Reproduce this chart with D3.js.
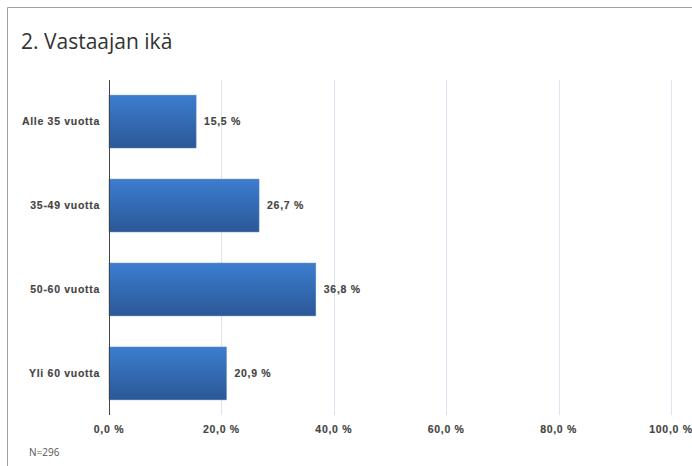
<!DOCTYPE html>
<html>
<head>
<meta charset="utf-8">
<script src="https://cdn.jsdelivr.net/npm/d3@7"></script>
<style>
  body { margin: 0; background: #fff; }
  svg { display: block; }
</style>
</head>
<body>
<div class="chart"></div>
<script>
const categories = ["Alle 35 vuotta", "35-49 vuotta", "50-60 vuotta", "Yli 60 vuotta"];
const values = [15.5, 26.7, 36.8, 20.9];
const ticks = [0, 20, 40, 60, 80, 100];
const title = "2. Vastaajan ikä";
const note = "N=296";

const width = 692, height = 466;
const margin = { top: 80, right: 21, bottom: 51, left: 109 };
const labelFont = "'Liberation Sans', Arial, sans-serif";

const svg = d3.select(".chart")
  .append("svg")
  .attr("width", width)
  .attr("height", height);

// frame (top + left edges)
svg.append("path")
  .attr("d", `M7.5,${height} V7.5 H${width}`)
  .attr("fill", "none")
  .attr("stroke", "#a0a0a0")
  .attr("stroke-width", 1);

svg.append("text")
  .attr("x", 21)
  .attr("y", 49)
  .attr("font-family", "'Open Sans', sans-serif")
  .attr("font-size", 21)
  .attr("fill", "#333")
  .text(title);

const fmt = v => v.toFixed(1).replace(".", ",") + " %";

const x = d3.scaleLinear().domain([0, 100]).range([margin.left, width - margin.right]);
const y = d3.scaleBand().domain(categories).range([margin.top, height - margin.bottom]).paddingInner(0.37).paddingOuter(0.18);

const defs = svg.append("defs");
const grad = defs.append("linearGradient")
  .attr("id", "barGrad")
  .attr("x1", 0).attr("y1", 0).attr("x2", 0).attr("y2", 1);
grad.append("stop").attr("offset", "0%").attr("stop-color", "#3b7dcf");
grad.append("stop").attr("offset", "100%").attr("stop-color", "#2b5896");

// gridlines
svg.append("g")
  .selectAll("line")
  .data(ticks.filter(d => d > 0))
  .join("line")
  .attr("x1", d => Math.round(x(d)) + 0.5)
  .attr("x2", d => Math.round(x(d)) + 0.5)
  .attr("y1", margin.top)
  .attr("y2", height - margin.bottom)
  .attr("stroke", "#dde3ef")
  .attr("stroke-width", 1);

// bars
svg.append("g")
  .selectAll("rect")
  .data(categories)
  .join("rect")
  .attr("x", x(0))
  .attr("y", d => y(d))
  .attr("width", (d, i) => x(values[i]) - x(0))
  .attr("height", y.bandwidth())
  .attr("fill", "url(#barGrad)")
  .attr("stroke", "#5d86bd")
  .attr("stroke-width", 0.5);

function styleLabel(sel) {
  sel.attr("font-family", labelFont)
    .attr("font-size", 10.5)
    .attr("font-weight", 600)
    .attr("letter-spacing", 0.7)
    .attr("fill", "#444")
    .attr("stroke", "#444")
    .attr("stroke-width", 0.15);
}

// value labels
svg.append("g")
  .selectAll("text")
  .data(categories)
  .join("text")
  .attr("x", (d, i) => x(values[i]) + 8)
  .attr("y", d => y(d) + y.bandwidth() / 2)
  .attr("dy", "0.35em")
  .call(styleLabel)
  .text((d, i) => fmt(values[i]));

// y axis line
svg.append("line")
  .attr("x1", x(0) + 0.5).attr("x2", x(0) + 0.5)
  .attr("y1", margin.top).attr("y2", height - margin.bottom)
  .attr("stroke", "#444")
  .attr("stroke-width", 1);

// category labels
svg.append("g")
  .selectAll("text")
  .data(categories)
  .join("text")
  .attr("x", x(0) - 9)
  .attr("y", d => y(d) + y.bandwidth() / 2)
  .attr("dy", "0.35em")
  .attr("text-anchor", "end")
  .call(styleLabel)
  .text(d => d);

// x tick labels
svg.append("g")
  .selectAll("text")
  .data(ticks)
  .join("text")
  .attr("x", d => x(d))
  .attr("y", 433)
  .attr("text-anchor", "middle")
  .call(styleLabel)
  .text(d => fmt(d));

svg.append("text")
  .attr("x", 29)
  .attr("y", 456)
  .attr("font-family", "'Open Sans', sans-serif")
  .attr("font-size", 10)
  .attr("fill", "#555")
  .text(note);
</script>
</body>
</html>
